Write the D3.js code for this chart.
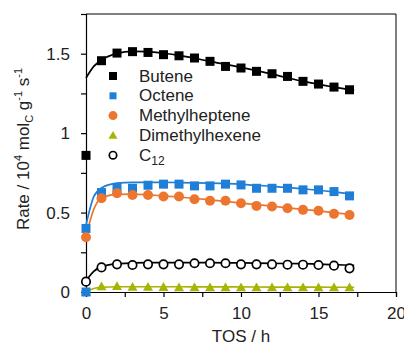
<!DOCTYPE html>
<html>
<head>
<meta charset="utf-8">
<script src="https://cdn.jsdelivr.net/npm/d3@7"></script>
<style>
  body { margin: 0; background: #fff; }
  svg text { font-family: "Liberation Sans", Arial, sans-serif; fill: #222; }
</style>
</head>
<body>
<div id="chart"></div>
<script>
var w = 404;
var h = 346;

// measured points (TOS in h)
var tos = [0, 1, 2, 3, 4, 5, 6, 7, 8, 9, 10, 11, 12, 13, 14, 15, 16, 17];
var butene = [0.86, 1.456, 1.504, 1.513, 1.508, 1.494, 1.487, 1.473, 1.452, 1.42, 1.41, 1.389, 1.374, 1.357, 1.326, 1.309, 1.29, 1.273];
var octene = [0.40, 0.626, 0.658, 0.653, 0.672, 0.679, 0.679, 0.668, 0.668, 0.679, 0.674, 0.653, 0.653, 0.653, 0.643, 0.643, 0.632, 0.605];
var methylheptene = [0.345, 0.59, 0.622, 0.611, 0.611, 0.601, 0.601, 0.584, 0.574, 0.574, 0.559, 0.542, 0.538, 0.527, 0.517, 0.511, 0.492, 0.485];
var dimethylhexene = [0, 0.035, 0.036, 0.032, 0.032, 0.031, 0.029, 0.029, 0.029, 0.029, 0.029, 0.028, 0.028, 0.028, 0.028, 0.028, 0.028, 0.028];
var c12 = [0.065, 0.155, 0.174, 0.17, 0.174, 0.174, 0.174, 0.181, 0.181, 0.181, 0.174, 0.174, 0.174, 0.172, 0.172, 0.17, 0.166, 0.149];
// starting zero points sitting at the origin
var zeroPoints = [0, 0];

// fitted curves
var fitTos = [0, 0.5, 1, 2, 3, 4, 5, 6, 8, 10, 12, 14, 16, 17.3];
var buteneFit = [1.347, 1.42, 1.46, 1.502, 1.515, 1.513, 1.503, 1.49, 1.452, 1.414, 1.372, 1.326, 1.29, 1.269];
var octeneFit = [0.42, 0.6, 0.655, 0.685, 0.69, 0.69, 0.69, 0.689, 0.685, 0.678, 0.665, 0.65, 0.63, 0.615];
var methylFit = [0.35, 0.52, 0.59, 0.615, 0.616, 0.612, 0.605, 0.598, 0.58, 0.56, 0.54, 0.52, 0.5, 0.485];
var dimethylFit = [0, 0.022, 0.03, 0.033, 0.033, 0.033, 0.033, 0.033, 0.032, 0.032, 0.031, 0.031, 0.03, 0.03];
var c12Fit = [0.07, 0.13, 0.16, 0.178, 0.183, 0.185, 0.185, 0.185, 0.185, 0.183, 0.18, 0.178, 0.172, 0.168];

var names = ["Butene", "Octene", "Methylheptene", "Dimethylhexene", "C12"];
var xTicks = [0, 2.5, 5, 7.5, 10, 12.5, 15, 17.5, 20];
var yTicks = [0, 0.25, 0.5, 0.75, 1, 1.25, 1.5, 1.75];

var blue = "#1f7fd6", orange = "#ec7630", olive = "#a6b404";

var series = [
  { name: names[0], vals: butene, fit: buteneFit, color: "#000", shape: "square" },
  { name: names[1], vals: octene, fit: octeneFit, color: blue, shape: "square" },
  { name: names[2], vals: methylheptene, fit: methylFit, color: orange, shape: "circle" },
  { name: names[3], vals: dimethylhexene, fit: dimethylFit, color: olive, shape: "triangle" },
  { name: names[4], vals: c12, fit: c12Fit, color: "#000", shape: "open" }
];

var xScale = d3.scaleLinear().domain([0, 20]).range([86, 396]);
var yScale = d3.scaleLinear().domain([0, 1.75]).range([292, 14]);

var svg = d3.select("#chart").append("svg")
  .attr("width", w)
  .attr("height", h);

// frame
svg.append("line").attr("x1", 86).attr("x2", 396).attr("y1", 14).attr("y2", 14)
  .attr("stroke", "#000").attr("stroke-width", 1);
svg.append("line").attr("x1", 396).attr("x2", 396).attr("y1", 14).attr("y2", 292)
  .attr("stroke", "#000").attr("stroke-width", 1);

var xAxis = d3.axisBottom(xScale).tickValues(xTicks).tickSize(5).tickPadding(10)
  .tickFormat(function (d) { return d % 5 === 0 ? d : ""; });
var yAxis = d3.axisLeft(yScale).tickValues(yTicks).tickSize(5).tickPadding(11)
  .tickFormat(function (d) { return d % 0.5 === 0 ? d : ""; });

function styleAxis(g) {
  g.select(".domain").attr("stroke", "#000").attr("stroke-width", 1.2);
  g.selectAll(".tick line").attr("stroke", "#000").attr("stroke-width", 1.2);
  g.selectAll(".tick text").attr("font-size", 17).attr("fill", "#222")
    .attr("font-family", "Liberation Sans, Arial, sans-serif");
}

svg.append("g").attr("transform", "translate(0,292)").call(xAxis).call(styleAxis);
svg.append("g").attr("transform", "translate(86,0)").call(yAxis).call(styleAxis);

// fit lines
var line = d3.line()
  .x(function (d, i) { return xScale(fitTos[i]); })
  .y(function (d) { return yScale(d); })
  .curve(d3.curveMonotoneX);

series.forEach(function (s) {
  svg.append("path")
    .datum(s.fit)
    .attr("fill", "none")
    .attr("stroke", s.color)
    .attr("stroke-width", 1.7)
    .attr("d", line);
});

function drawMarker(g, shape, color, x, y, size) {
  if (shape === "square") {
    g.append("rect").attr("x", x - size / 2).attr("y", y - size / 2)
      .attr("width", size).attr("height", size).attr("fill", color);
  } else if (shape === "circle") {
    g.append("circle").attr("cx", x).attr("cy", y).attr("r", size / 2 + 0.5).attr("fill", color);
  } else if (shape === "triangle") {
    var t = size + 1;
    g.append("path")
      .attr("d", "M" + x + "," + (y - t * 0.5) + "L" + (x + t / 2) + "," + (y + t * 0.38) + "L" + (x - t / 2) + "," + (y + t * 0.38) + "Z")
      .attr("fill", color);
  } else {
    g.append("circle").attr("cx", x).attr("cy", y).attr("r", size / 2 - 0.3)
      .attr("fill", "#fff").attr("stroke", color).attr("stroke-width", 1.7);
  }
}

var marks = svg.append("g");
// origin points
drawMarker(marks, "triangle", olive, xScale(0), yScale(0), 9);
drawMarker(marks, "square", blue, xScale(0), yScale(zeroPoints[0]), 9);
drawMarker(marks, "circle", blue, xScale(0), yScale(zeroPoints[1]), 7);

series.forEach(function (s) {
  s.vals.forEach(function (v, i) {
    if (s.name === "Dimethylhexene" && i === 0) return;
    drawMarker(marks, s.shape, s.color, xScale(tos[i]), yScale(v), 9);
  });
});

// legend
var legend = svg.append("g");
series.forEach(function (s, i) {
  var yy = 76 + i * 19.8;
  drawMarker(legend, s.shape, s.color, 113, yy, s.name === "Octene" ? 7 : 8);
  var t = legend.append("text").attr("x", 139).attr("y", yy + 5.5).attr("font-size", 17);
  if (s.name === "C12") {
    t.append("tspan").text("C");
    t.append("tspan").attr("font-size", 12).attr("dy", 4).text("12");
  } else {
    t.text(s.name);
  }
});

// axis titles
svg.append("text")
  .attr("x", 241).attr("y", 342)
  .attr("text-anchor", "middle")
  .attr("font-size", 17)
  .text("TOS / h");

var yl = svg.append("text")
  .attr("transform", "translate(29,149) rotate(-90)")
  .attr("text-anchor", "middle")
  .attr("font-size", 17);
yl.append("tspan").text("Rate / 10");
yl.append("tspan").attr("font-size", 11).attr("dy", -7).text("4");
yl.append("tspan").attr("dy", 7).text(" mol");
yl.append("tspan").attr("font-size", 11).attr("dy", 4).text("C");
yl.append("tspan").attr("dy", -4).text(" g");
yl.append("tspan").attr("font-size", 11).attr("dy", -7).text("-1");
yl.append("tspan").attr("dy", 7).text(" s");
yl.append("tspan").attr("font-size", 11).attr("dy", -7).text("-1");
</script>
</body>
</html>
